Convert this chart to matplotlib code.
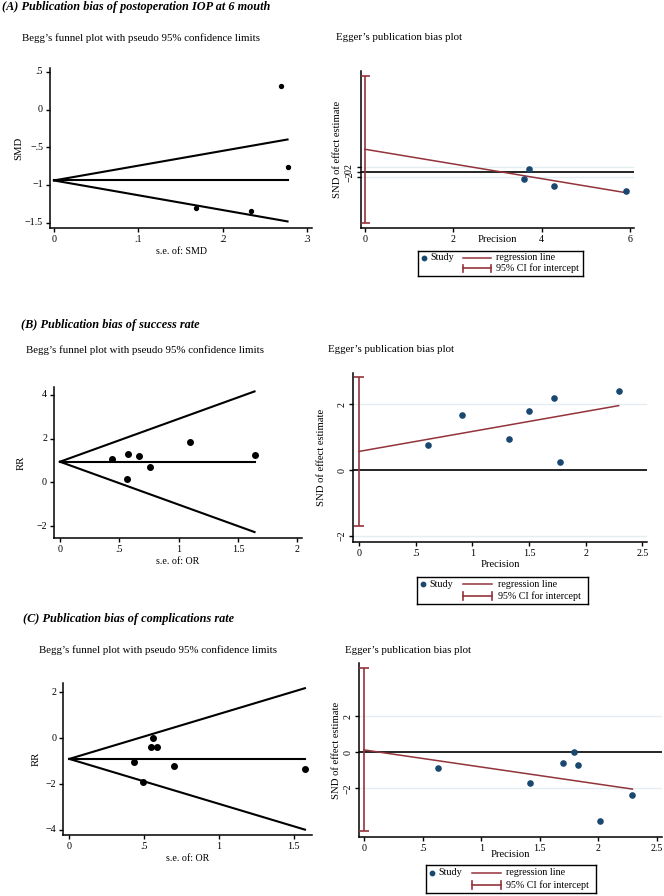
import numpy as np
import matplotlib
matplotlib.use("Agg")
from matplotlib import pyplot as plt

plt.rcParams['font.family'] = ['Liberation Serif', 'DejaVu Serif']
plt.rcParams['axes.unicode_minus'] = True

# --------------------------------------------------------------------------------
# Data (funnel: s.e. vs effect; Egger: precision vs SND)
# --------------------------------------------------------------------------------

# (A) postoperation IOP at 6 months
a_se = [0.269, 0.277, 0.169, 0.234]
a_smd = [0.31, -0.76, -1.30, -1.34]
a_pooled = -0.94
a_prec = [3.72, 3.61, 5.92, 4.27]
a_snd = [1.15, -2.74, -7.7, -5.7]
a_intercept, a_slope = 9.0, -2.94
a_ci = (-20.6, 38.3)

# (B) success rate
b_se = [0.435, 0.575, 0.561, 0.668, 0.758, 1.10, 1.64]
b_rr = [1.05, 1.28, 0.14, 1.21, 0.71, 1.85, 1.26]
b_pooled = 0.94
b_prec = [2.29, 1.72, 1.77, 1.50, 1.32, 0.91, 0.61]
b_snd = [2.40, 2.20, 0.25, 1.81, 0.94, 1.68, 0.77]
b_intercept, b_slope = 0.57, 0.607
b_ci = (-1.70, 2.82)

# (C) complications rate
c_se = [0.435, 0.495, 0.545, 0.558, 0.589, 0.702, 1.575]
c_rr = [-1.05, -1.90, -0.39, 0.0, -0.37, -1.20, -1.35]
c_pooled = -0.90
c_prec = [2.29, 2.01, 1.83, 1.79, 1.70, 1.42, 0.63]
c_snd = [-2.37, -3.80, -0.69, 0.0, -0.61, -1.69, -0.85]
c_intercept, c_slope = 0.13, -0.95
c_ci = (-4.36, 4.67)

NAVY = "#1a476f"
MAROON = "#93333b"
W, H = 664, 896

fig = plt.figure(figsize=(W / 100, H / 100), dpi=100)


def px_axes(x0, x1, ytop, ybot):
    return fig.add_axes([x0 / W, 1 - ybot / H, (x1 - x0) / W, (ybot - ytop) / H])


def fig_text(x, y, s, **kw):
    fig.text(x / W, 1 - y / H, s, va='center', ha='left', **kw)


def stata_fmt(v):
    s = ('%g' % v)
    s = s.replace('0.', '.') if abs(v) < 1 else s
    return s.replace('-', '\u2212')


def style(ax, xticks, yticks, rot_y=False):
    for sp in ['top', 'right']:
        ax.spines[sp].set_visible(False)
    for sp in ['left', 'bottom']:
        ax.spines[sp].set_linewidth(1.1)
    ax.set_xticks(xticks)
    ax.set_xticklabels([stata_fmt(v) for v in xticks])
    ax.set_yticks(yticks)
    ax.set_yticklabels([stata_fmt(v) for v in yticks],
                       rotation=90 if rot_y else 0, va='center')
    ax.tick_params(direction='out', length=3, width=1, labelsize=7.2, pad=2)


def funnel(rect, se, eff, pooled, xlim, ylim, xticks, yticks, xlab, ylab, ms, ypad):
    ax = px_axes(*rect)
    smax = max(se)
    s = np.array([0, smax])
    ax.plot(s, pooled + 1.96 * s, color='black', lw=1.5)
    ax.plot(s, pooled - 1.96 * s, color='black', lw=1.5)
    ax.plot(s, [pooled, pooled], color='black', lw=1.5)
    ax.scatter(se, eff, s=ms, color='black', zorder=3)
    ax.set_xlim(*xlim)
    ax.set_ylim(*ylim)
    style(ax, xticks, yticks)
    ax.set_xlabel(xlab, fontsize=7.2, labelpad=2)
    ax.set_ylabel(ylab, fontsize=7.7, labelpad=ypad)
    return ax


def egger(rect, prec, snd, b0, b1, ci, xlim, ylim, xticks, xlab_pad, ylab_pad):
    ax = px_axes(*rect)
    ax.axhline(2, color='#e3eef0', lw=1, zorder=1)
    ax.axhline(-2, color='#e3eef0', lw=1, zorder=1)
    ax.axhline(0, color='black', lw=1.2, zorder=2)
    ax.errorbar([0], [(ci[0] + ci[1]) / 2], yerr=[[(ci[1] - ci[0]) / 2]],
                color=MAROON, lw=1.2, capsize=3.5, capthick=1.2, zorder=3)
    p = np.array([0, max(prec)])
    ax.plot(p, b0 + b1 * p, color=MAROON, lw=1.1, zorder=3)
    ax.scatter(prec, snd, s=14, color=NAVY, zorder=4)
    ax.set_xlim(*xlim)
    ax.set_ylim(*ylim)
    style(ax, xticks, [-2, 0, 2], rot_y=True)
    ax.set_xlabel('Precision', fontsize=7.7, labelpad=xlab_pad)
    ax.set_ylabel('SND of effect estimate', fontsize=7.7, labelpad=ylab_pad)
    return ax


def legend_box(x0, x1, ytop, ybot):
    lg = px_axes(x0, x1, ytop, ybot)
    lg.set_xlim(0, 1)
    lg.set_ylim(0, 1)
    lg.set_xticks([])
    lg.set_yticks([])
    for sp in lg.spines.values():
        sp.set_linewidth(1.0)
    lg.scatter([0.035], [0.72], s=10, color=NAVY)
    lg.text(0.075, 0.72, 'Study', fontsize=7.2, va='center')
    lg.plot([0.27, 0.44], [0.72, 0.72], color=MAROON, lw=1.1)
    lg.text(0.475, 0.72, 'regression line', fontsize=7.2, va='center')
    lg.plot([0.27, 0.44], [0.30, 0.30], color=MAROON, lw=1.2)
    lg.plot([0.27, 0.27], [0.16, 0.44], color=MAROON, lw=1.2)
    lg.plot([0.44, 0.44], [0.16, 0.44], color=MAROON, lw=1.2)
    lg.text(0.475, 0.30, '95% CI for intercept', fontsize=7.2, va='center')


title_kw = dict(fontsize=8.8, fontweight='bold', fontstyle='italic')
sub_kw = dict(fontsize=7.8)

# ---------------------------------- Panel A ----------------------------------
fig_text(2, 7, '(A) Publication bias of postoperation IOP at 6 mouth', **title_kw)
fig_text(22, 38, 'Begg\u2019s funnel plot with pseudo 95% confidence limits', **sub_kw)
fig_text(336, 37, 'Egger\u2019s publication bias plot', **sub_kw)
funnel((50, 312, 68, 228), a_se, a_smd, a_pooled, (-0.0047, 0.306), (-1.57, 0.55),
       [0, 0.1, 0.2, 0.3], [-1.5, -1, -0.5, 0, 0.5], 's.e. of: SMD', 'SMD', 8, 1)
egger((361, 634, 70.7, 228.3), a_prec, a_snd, a_intercept, a_slope, a_ci,
      (-0.09, 6.09), (-22.6, 40.4), [0, 2, 4, 6], -6.5, 2)
legend_box(418, 583, 250.7, 276)

# ---------------------------------- Panel B ----------------------------------
fig_text(21, 325, '(B) Publication bias of success rate', **title_kw)
fig_text(26, 350, 'Begg\u2019s funnel plot with pseudo 95% confidence limits', **sub_kw)
fig_text(328, 349, 'Egger\u2019s publication bias plot', **sub_kw)
funnel((54, 302, 386.7, 538.3), b_se, b_rr, b_pooled, (-0.05, 2.04), (-2.56, 4.37),
       [0, 0.5, 1, 1.5, 2], [-2, 0, 2, 4], 's.e. of: OR', 'RR', 16, 8)
egger((353.3, 647, 372.7, 541.7), b_prec, b_snd, b_intercept, b_slope, b_ci,
      (-0.05, 2.54), (-2.17, 2.96), [0, 0.5, 1, 1.5, 2, 2.5], 2, 8)
legend_box(417, 588, 576.7, 604)

# ---------------------------------- Panel C ----------------------------------
fig_text(23, 619, '(C) Publication bias of complications rate', **title_kw)
fig_text(39, 650, 'Begg\u2019s funnel plot with pseudo 95% confidence limits', **sub_kw)
fig_text(345, 650, 'Egger\u2019s publication bias plot', **sub_kw)
funnel((63.3, 311.7, 683.3, 835), c_se, c_rr, c_pooled, (-0.04, 1.62), (-4.22, 2.4),
       [0, 0.5, 1, 1.5], [-4, -2, 0, 2], 's.e. of: OR', 'RR', 16, 4)
egger((359.3, 661.7, 663.3, 836.7), c_prec, c_snd, c_intercept, c_slope, c_ci,
      (-0.04, 2.54), (-4.69, 4.94), [0, 0.5, 1, 1.5, 2, 2.5], -2, 2)
legend_box(425.7, 595.7, 865, 893.3)

fig.savefig('out.png', dpi=100)
